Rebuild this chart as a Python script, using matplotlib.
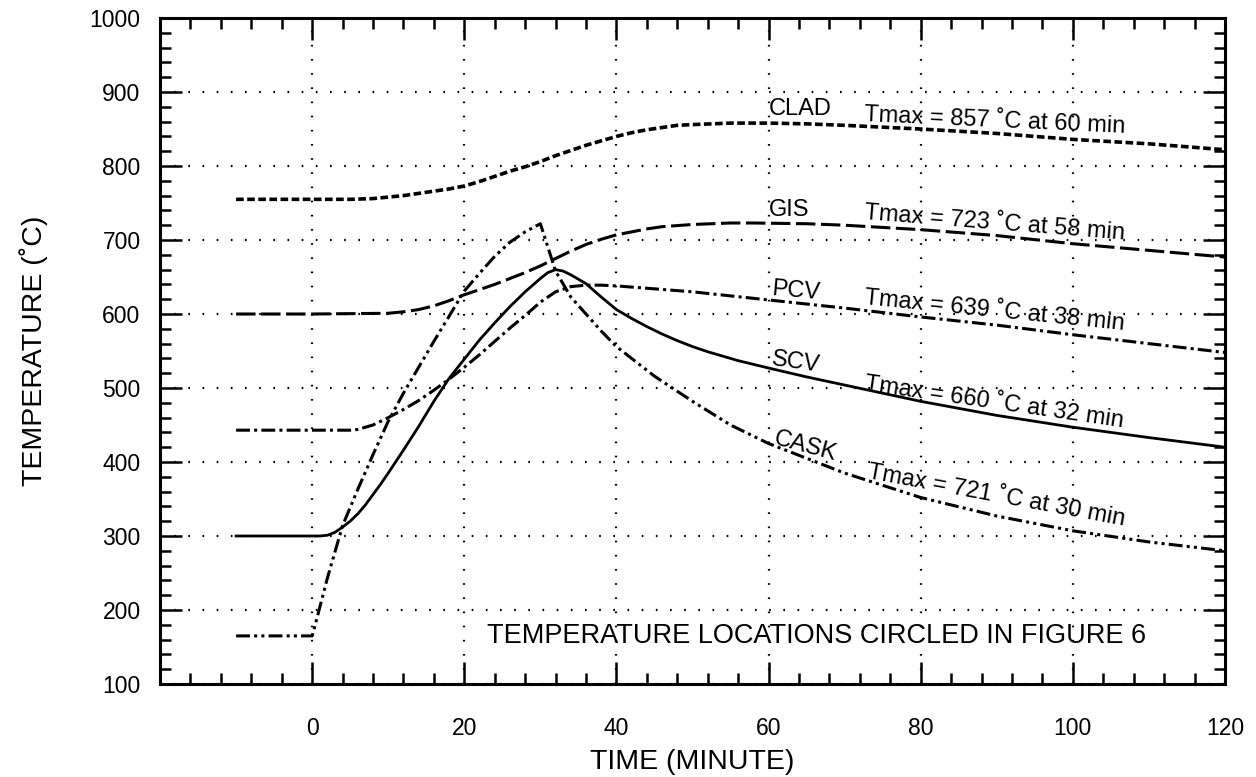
import numpy as np
import matplotlib.pyplot as plt
import matplotlib as mpl
from matplotlib.ticker import MultipleLocator

mpl.rcParams['font.family'] = ['Liberation Sans', 'DejaVu Sans']
mpl.rcParams['lines.scale_dashes'] = False

# ---- data (time in minutes, temperature in C) ----
clad_t = [-10, 0, 5, 8, 10, 12, 14, 16, 18, 20, 22, 24, 26, 28, 30, 32, 34, 36, 38, 40, 42, 44, 46, 48,
          50, 55, 60, 65, 70, 80, 90, 100, 110, 120]
clad_T = [755, 755, 755, 756, 758, 760, 763, 766, 769, 773, 779, 786, 793, 799, 806, 814, 821, 828, 834, 840,
          845, 849, 852, 855, 856, 858, 858, 857, 855, 850, 844, 836, 830, 822]

gis_t = [-10, 0, 10, 12, 14, 16, 18, 20, 22, 24, 26, 28, 30, 32, 34, 36, 38, 40, 42, 44, 46, 50, 55, 58,
         65, 70, 80, 90, 100, 110, 120]
gis_T = [600, 600, 601, 603, 606, 611, 618, 626, 633, 640, 648, 656, 665, 675, 685, 694, 701, 707, 711, 715,
         718, 721, 723, 723, 722, 720, 714, 706, 695, 686, 677]

pcv_t = [-10, 0, 5, 6, 8, 10, 12, 14, 16, 18, 20, 22, 24, 26, 28, 30, 32, 34, 36, 38, 40, 45, 50, 60,
         70, 80, 90, 100, 110, 120]
pcv_T = [443, 443, 443, 444, 450, 460, 471, 483, 497, 512, 528, 545, 563, 581, 598, 616, 630, 637, 639, 639,
         638, 634, 630, 619, 608, 596, 585, 572, 560, 548]

scv_t = [-10, 0, 1, 2, 3, 4, 5, 6, 7, 8, 9, 10, 12, 14, 16, 18, 20, 22, 24, 26, 28, 30, 31, 32, 33, 34,
         36, 38, 40, 42, 44, 46, 48, 50, 52, 54, 56, 58, 60, 65, 70, 80, 90, 100, 110, 120]
scv_T = [300, 300, 300, 301, 305, 312, 320, 330, 342, 356, 370, 385, 416, 448, 482, 513, 539, 565, 588, 610,
         630, 648, 656, 660, 658, 653, 641, 623, 606, 594, 583, 573, 564, 556, 549, 543, 537, 532, 527, 515,
         504, 482, 463, 447, 433, 420]

cask_t = [-10, 0, 0.2, 2, 4, 6, 8, 10, 12, 14, 16, 18, 20, 22, 24, 26, 28, 30, 31, 32, 34, 36, 38, 40,
          45, 50, 55, 60, 70, 80, 90, 100, 110, 120]
cask_T = [165, 165, 172, 243, 314, 363, 410, 455, 493, 528, 563, 597, 631, 655, 678, 697, 711, 722, 690, 658,
          623, 600, 577, 556, 516, 482, 450, 425, 385, 352, 327, 307, 292, 280]

# curve labels: name, (x, y) of name, rotation, Tmax text, (x, y), rotation
labels = [
    ("CLAD", 60, 869, 0, "Tmax = 857 \u02daC at 60 min", 72.5, 861, -2.6),
    ("GIS", 60, 732, 0, "Tmax = 723 \u02daC at 58 min", 72.5, 729, -4.5),
    ("PCV", 60.3, 626, -5, "Tmax = 639 \u02daC at 38 min", 72.5, 614, -5.7),
    ("SCV", 60.3, 531, -8, "Tmax = 660 \u02daC at 32 min", 72.5, 497, -8.2),
    ("CASK", 60.5, 424, -15, "Tmax = 721 \u02daC at 30 min", 73.0, 378, -10.5),
]

fig = plt.figure(figsize=(12.56, 7.77), dpi=100)
ax = fig.add_axes([0.1274, 0.1197, 0.8479, 0.8571])

ax.plot(clad_t, clad_T, color='black', lw=2.6, ls=(0, (5.5, 2.5)))
ax.plot(gis_t, gis_T, color='black', lw=2.2, ls=(0, (14, 4)))
ax.plot(pcv_t, pcv_T, color='black', lw=2.2, ls=(0, (10, 3, 2.2, 3)))
ax.plot(scv_t, scv_T, color='black', lw=2.0, ls='-')
ax.plot(cask_t, cask_T, color='black', lw=2.2, ls=(0, (10, 3, 2.2, 3, 2.2, 3)))

for name, nx, ny, nrot, tm, tx, ty, trot in labels:
    ax.text(nx, ny, name, fontsize=17, rotation=nrot, rotation_mode='anchor',
            ha='left', va='baseline')
    ax.text(tx, ty, tm, fontsize=17, rotation=trot, rotation_mode='anchor',
            ha='left', va='baseline')

ax.text(23, 165, "TEMPERATURE LOCATIONS CIRCLED IN FIGURE 6", fontsize=19.5,
        ha='left', va='center')

ax.set_xlim(-20, 120)
ax.set_ylim(100, 1000)
ax.xaxis.set_major_locator(MultipleLocator(20))
ax.xaxis.set_minor_locator(MultipleLocator(4))
ax.yaxis.set_major_locator(MultipleLocator(100))
ax.yaxis.set_minor_locator(MultipleLocator(20))
ax.set_xticks(np.arange(0, 121, 20))

ax.grid(True, which='major', color='black', lw=1.6, ls=(0, (1.2, 9)))
ax.tick_params(which='both', direction='in', top=True, right=True, width=1.8)
ax.tick_params(which='major', length=16, labelsize=16.5)
ax.tick_params(axis='x', which='major', pad=24)
ax.tick_params(axis='y', which='major', pad=14)
ax.tick_params(which='minor', length=8)

for sp in ax.spines.values():
    sp.set_linewidth(2.2)

ax.set_xlabel("TIME (MINUTE)", fontsize=20.5, labelpad=6)
ax.set_ylabel("TEMPERATURE (\u02daC)", fontsize=20.5, labelpad=30)

fig.savefig("out.png", dpi=100)
